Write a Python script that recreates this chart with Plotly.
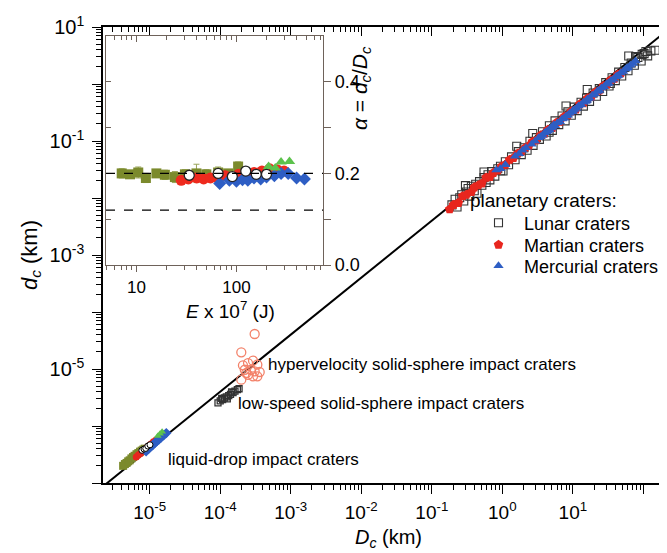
import plotly.graph_objects as go

# ------------------------------------------------------------------ data
# planetary craters (D_c, d_c in km)
lunar_D = [0.193, 0.214, 0.228, 0.249, 0.266, 0.284, 0.309, 0.327, 0.345, 0.364, 0.400, 0.419, 0.437, 0.475,
           0.513, 0.550, 0.589, 0.627, 0.666, 0.705, 0.783, 0.862, 0.942, 1.023, 1.104, 1.226, 1.350, 1.517,
           1.686, 1.856, 2.028, 2.245, 2.464, 2.729, 3.042, 3.357, 3.721, 4.181, 4.647, 5.117, 5.588, 6.308,
           7.033, 7.767, 8.507, 9.502, 10.51, 11.52, 13.07, 14.10, 15.67, 17.25, 19.39, 21.54, 23.71, 26.47,
           29.24, 32.61, 36.01, 40.01, 44.62, 49.31, 54.60, 60.54, 67.18, 74.45, 83.64, 92.97, 102.4, 115.0,
           127.8, 147.2, 77.5, 96.1, 108.7, 0.30, 0.55, 0.95, 1.6, 2.7, 4.6, 8.0, 16.0, 34.0, 62.0]
lunar_d = [0.00758, 0.00949, 0.00696, 0.01013, 0.01143, 0.00885, 0.01274, 0.01471, 0.01078, 0.01605, 0.01339,
           0.01739, 0.01208, 0.01941, 0.01671, 0.0228, 0.01873, 0.02556, 0.02076, 0.02904, 0.02418, 0.03254,
           0.03607, 0.02973, 0.0432, 0.0382, 0.0526, 0.0468, 0.0651, 0.0577, 0.0763, 0.0688, 0.0990, 0.0838,
           0.1144, 0.1067, 0.1456, 0.1222, 0.1853, 0.1535, 0.2258, 0.1934, 0.2749, 0.2258, 0.3247, 0.2832,
           0.3922, 0.3416, 0.4776, 0.4092, 0.5642, 0.4949, 0.6962, 0.6079, 0.8296, 0.7403, 1.056, 0.920,
           1.286, 1.148, 1.614, 1.379, 1.946, 1.708, 2.332, 2.138, 2.917, 2.526, 3.413, 3.115, 3.814, 3.914,
           3.016, 3.314, 3.714, 0.0165, 0.0285, 0.0300, 0.0810, 0.1350, 0.1420, 0.4100, 0.8000, 1.0200, 3.1000]

martian_D = [0.179, 0.203, 0.238, 0.273, 0.309, 0.364, 0.400, 0.456, 0.513, 0.589, 0.666, 0.744, 0.862, 0.982,
             1.104, 1.267, 1.434, 1.644, 1.856, 2.114, 2.376, 2.685, 3.042, 3.493, 3.951, 4.414, 5.117, 5.829,
             6.549, 7.52, 8.507, 9.502, 11.02, 12.55, 14.10, 16.20, 18.32, 21.0, 23.71, 27.02, 30.37, 34.3,
             38.87, 43.47, 48.1]
martian_d = [0.00633, 0.00758, 0.00822, 0.01078, 0.01143, 0.01274, 0.01538, 0.01671, 0.01805, 0.0228, 0.0235,
             0.02764, 0.03043, 0.03607, 0.0382, 0.0468, 0.05044, 0.05993, 0.06436, 0.0763, 0.0823, 0.0975,
             0.1029, 0.1260, 0.1338, 0.1575, 0.1693, 0.2096, 0.2177, 0.2667, 0.2832, 0.3332, 0.3583, 0.4433,
             0.4604, 0.5642, 0.599, 0.7226, 0.7672, 0.920, 0.974, 1.175, 1.240, 1.472, 1.548]

mercury_D = [0.823, 0.942, 1.104, 1.517, 1.729, 1.942, 2.159, 2.596, 2.907, 3.267, 3.493, 3.721, 3.951, 4.181,
             4.414, 4.647, 4.882, 5.117, 5.588, 6.066, 6.549, 7.033, 7.52, 8.012, 8.507, 9.0, 9.752, 10.51,
             11.27, 12.04, 13.07, 14.10, 15.14, 16.20, 17.25, 18.85, 20.46, 22.08, 23.71, 25.37, 27.57, 29.8,
             32.04, 34.86, 37.72, 40.58, 44.05, 47.53, 51.66, 55.79, 60.54, 65.36, 71.42, 77.5, 5.352, 10.0,
             15.67, 22.62, 30.93, 42.32, 58.18]
mercury_d = [0.03112, 0.03254, 0.0382, 0.05408, 0.05993, 0.0688, 0.0763, 0.0876, 0.0990, 0.1144, 0.1183,
             0.1260, 0.1378, 0.1456, 0.1496, 0.1575, 0.1693, 0.1734, 0.1853, 0.2096, 0.2177, 0.242, 0.2502,
             0.2749, 0.2832, 0.3081, 0.3247, 0.3583, 0.3752, 0.4092, 0.4346, 0.4776, 0.4949, 0.5468, 0.5642,
             0.6343, 0.6695, 0.7403, 0.776, 0.8475, 0.8927, 0.9922, 1.038, 1.157, 1.212, 1.342, 1.416, 1.566,
             1.661, 1.831, 1.946, 2.138, 2.283, 2.526, 0.1934, 0.3416, 0.5122, 0.7583, 1.010, 1.379, 1.898]

# hypervelocity solid-sphere impact craters
hyper_D = [3.08e-4, 1.99e-4, 2.92e-4, 2.48e-4, 2.10e-4, 3.36e-4, 2.23e-4, 2.71e-4, 3.08e-4, 3.63e-4,
           2.34e-4, 2.92e-4, 1.99e-4, 3.36e-4, 2.48e-4]
hyper_d = [4.11e-5, 1.96e-5, 1.40e-5, 1.27e-5, 1.16e-5, 1.19e-5, 9.7e-6, 9.7e-6, 9.1e-6, 8.85e-6,
           8.5e-6, 7.45e-6, 6.5e-6, 7.45e-6, 7.9e-6]

# low-speed solid-sphere impact craters
low_D = [9.3e-5, 1.0e-4, 1.05e-4, 1.08e-4, 1.15e-4, 1.22e-4, 1.26e-4, 1.32e-4, 1.40e-4, 1.45e-4, 1.52e-4,
         1.62e-4, 1.75e-4, 1.85e-4]
low_d = [2.55e-6, 2.75e-6, 3.05e-6, 2.9e-6, 3.1e-6, 3.25e-6, 3.0e-6, 3.4e-6, 3.6e-6, 3.95e-6, 3.85e-6,
         4.1e-6, 4.35e-6, 4.5e-6]

# liquid-drop impact craters (main panel)
olive_D = [4.2e-6, 4.45e-6, 4.7e-6, 4.95e-6, 5.2e-6, 5.5e-6, 5.8e-6, 6.1e-6, 6.5e-6, 6.9e-6, 7.3e-6, 7.7e-6,
           8.1e-6, 8.5e-6]
olive_d = [2.0e-7, 2.15e-7, 2.25e-7, 2.4e-7, 2.5e-7, 2.7e-7, 2.85e-7, 3.0e-7, 3.2e-7, 3.35e-7, 3.55e-7,
           3.7e-7, 3.85e-7, 4.0e-7]
red_D = [6.45e-6, 6.9e-6, 7.4e-6, 7.9e-6, 8.4e-6, 9.0e-6, 9.7e-6, 1.04e-5, 1.13e-5, 1.23e-5]
red_d = [2.86e-7, 3.1e-7, 3.3e-7, 3.6e-7, 3.8e-7, 4.15e-7, 4.5e-7, 4.85e-7, 5.3e-7, 5.7e-7]
blue_D = [8.9e-6, 9.6e-6, 1.03e-5, 1.1e-5, 1.18e-5, 1.26e-5, 1.35e-5, 1.45e-5, 1.58e-5, 1.72e-5]
blue_d = [3.6e-7, 3.95e-7, 4.3e-7, 4.6e-7, 5.0e-7, 5.4e-7, 5.8e-7, 6.3e-7, 6.9e-7, 7.5e-7]
green_D = [1.3e-5, 1.4e-5, 1.5e-5]
green_d = [6.7e-7, 7.3e-7, 7.9e-7]
white_D = [7.75e-6, 8.3e-6, 8.8e-6, 9.4e-6, 1.01e-5]
white_d = [3.75e-7, 3.95e-7, 4.05e-7, 4.45e-7, 4.68e-7]

# reference line d_c = k * D_c
k_line = 0.04
line_D = [1e-7, 1e3]

# inset: alpha = d_c/D_c vs E x 10^7 (J)
in_olive_E = [7.1, 8.6, 10.4, 12.4, 15.8, 19.2, 24.2, 30.5, 39.8, 50, 65.6, 82.6, 104]
in_olive_a = [0.200, 0.198, 0.202, 0.190, 0.200, 0.197, 0.192, 0.198, 0.200, 0.198, 0.202, 0.200, 0.215]
in_olive_err = [0.010, 0.008, 0.012, 0.010, 0.008, 0.010, 0.012, 0.010, 0.020, 0.010, 0.012, 0.008, 0.010]
in_red_E = [28, 33, 40, 47, 55, 65, 77, 90, 105, 125, 150, 180, 215, 255, 300]
in_red_a = [0.185, 0.188, 0.190, 0.188, 0.190, 0.190, 0.195, 0.192, 0.198, 0.200, 0.202, 0.205, 0.210,
            0.208, 0.205]
in_blue_E = [68, 85, 100, 115, 130, 150, 175, 200, 240, 280, 330, 400, 480]
in_blue_a = [0.178, 0.185, 0.183, 0.186, 0.185, 0.190, 0.188, 0.192, 0.195, 0.200, 0.200, 0.190, 0.188]
in_green_E = [210, 245, 280, 340]
in_green_a = [0.215, 0.212, 0.225, 0.226]
in_white_E = [33.7, 65.6, 91, 124, 158, 200]
in_white_a = [0.196, 0.200, 0.193, 0.205, 0.198, 0.198]
in_white_err = [0.008, 0.006, 0.006, 0.008, 0.008, 0.006]
alpha_ref = [0.2, 0.12]

# tick labels
x_tickvals = [1e-5, 1e-4, 1e-3, 1e-2, 1e-1, 1e0, 1e1, 1e2]
x_ticktext = ['10<sup>-5</sup>', '10<sup>-4</sup>', '10<sup>-3</sup>', '10<sup>-2</sup>',
              '10<sup>-1</sup>', '10<sup>0</sup>', '10<sup>1</sup>', '']
y_tickvals = [1e-7, 1e-6, 1e-5, 1e-4, 1e-3, 1e-2, 1e-1, 1e0, 1e1]
y_ticktext = ['', '', '10<sup>-5</sup>', '', '10<sup>-3</sup>', '', '10<sup>-1</sup>', '', '10<sup>1</sup>']
in_x_tickvals = [10, 100]
in_x_ticktext = ['10', '100']
in_y_tickvals = [0.0, 0.2, 0.4]
in_y_ticktext = ['0.0', '0.2', '0.4']

# ------------------------------------------------------------------ layout helpers
W, H = 667, 553
ML, MR, MT, MB = 95, 2, 19, 78
PW, PH = W - ML - MR, H - MT - MB


def px(x):
    return (x - ML) / PW


def py(y):
    return (H - MB - y) / PH


def minor_log(lo, hi):
    return [m * 10.0 ** k for k in range(lo, hi) for m in range(2, 10)]


FONT = 'Liberation Sans, Arial, sans-serif'
INSET_C = '#6e625a'

fig = go.Figure()

fig.add_trace(go.Scatter(x=line_D, y=[k_line * v for v in line_D], mode='lines',
                         line=dict(color='black', width=2), showlegend=False, hoverinfo='skip'))

fig.add_trace(go.Scatter(x=lunar_D, y=lunar_d, mode='markers', name='Lunar craters', legend='legend',
                         marker=dict(symbol='square-open', size=8, color='#333333', line=dict(width=1.1))))
fig.add_trace(go.Scatter(x=martian_D, y=martian_d, mode='markers', name='Martian craters', legend='legend2',
                         marker=dict(symbol='pentagon', size=10, color='#e8261e', line=dict(width=0))))
fig.add_trace(go.Scatter(x=mercury_D, y=mercury_d, mode='markers', name='Mercurial craters', legend='legend3',
                         marker=dict(symbol='triangle-up', size=9, color='#2e5ec4', line=dict(width=0))))

fig.add_trace(go.Scatter(x=hyper_D, y=hyper_d, mode='markers', showlegend=False,
                         marker=dict(symbol='circle-open', size=9, color='#f3826a', line=dict(width=1.3))))
fig.add_trace(go.Scatter(x=low_D, y=low_d, mode='markers', showlegend=False,
                         marker=dict(symbol='square-open', size=6, color='#333333', line=dict(width=1.3))))
fig.add_trace(go.Scatter(x=olive_D, y=olive_d, mode='markers', showlegend=False,
                         marker=dict(symbol='square', size=8, color='#7b8a2c')))
fig.add_trace(go.Scatter(x=red_D, y=red_d, mode='markers', showlegend=False,
                         marker=dict(symbol='circle', size=7, color='#e8261e')))
fig.add_trace(go.Scatter(x=blue_D, y=blue_d, mode='markers', showlegend=False,
                         marker=dict(symbol='diamond', size=8, color='#2e5ec4')))
fig.add_trace(go.Scatter(x=green_D, y=green_d, mode='markers', showlegend=False,
                         marker=dict(symbol='triangle-up', size=7, color='#5cc24c')))
fig.add_trace(go.Scatter(x=white_D, y=white_d, mode='markers', showlegend=False,
                         marker=dict(symbol='circle', size=6, color='white', line=dict(color='black', width=1))))

fig.add_trace(go.Scatter(x=in_olive_E, y=in_olive_a, xaxis='x2', yaxis='y2', mode='markers', showlegend=False,
                         error_y=dict(type='data', array=in_olive_err, color='#9aa55a', thickness=1, width=3),
                         marker=dict(symbol='square', size=10, color='#7b8a2c')))
fig.add_trace(go.Scatter(x=in_red_E, y=in_red_a, xaxis='x2', yaxis='y2', mode='markers', showlegend=False,
                         marker=dict(symbol='circle', size=11, color='#ee2a1e')))
fig.add_trace(go.Scatter(x=in_blue_E, y=in_blue_a, xaxis='x2', yaxis='y2', mode='markers', showlegend=False,
                         marker=dict(symbol='diamond', size=10, color='#2e5ec4')))
fig.add_trace(go.Scatter(x=in_green_E, y=in_green_a, xaxis='x2', yaxis='y2', mode='markers', showlegend=False,
                         marker=dict(symbol='triangle-up', size=10, color='#5cc24c')))
fig.add_trace(go.Scatter(x=in_white_E, y=in_white_a, xaxis='x2', yaxis='y2', mode='markers', showlegend=False,
                         error_y=dict(type='data', array=in_white_err, color='#333333', thickness=1, width=3),
                         marker=dict(symbol='circle', size=10, color='white', line=dict(color='#222222', width=1.3))))

# invisible traces so that the mirrored tick axes get drawn
fig.add_trace(go.Scatter(x=[1], y=[1], xaxis='x3', yaxis='y4', mode='markers', marker=dict(opacity=0),
                         showlegend=False, hoverinfo='skip'))
fig.add_trace(go.Scatter(x=[10], y=[0.25], xaxis='x5', yaxis='y6', mode='markers', marker=dict(opacity=0),
                         showlegend=False, hoverinfo='skip'))

xr = [-5.662, 2.42]
yr = [-7.0, 1.0]
common = dict(showgrid=False, zeroline=False, showline=True, linecolor='black', linewidth=1.5,
              tickcolor='black', tickwidth=1.3)
inset_common = dict(showgrid=False, zeroline=False, showline=True, linecolor=INSET_C, linewidth=1.2,
                    tickcolor=INSET_C)


def leg(ycen):
    return dict(x=px(465), y=py(ycen), xanchor='left', yanchor='middle', bgcolor='rgba(0,0,0,0)',
                font=dict(size=18), itemwidth=41)


fig.update_layout(
    width=W, height=H, margin=dict(l=ML, r=MR, t=MT, b=MB),
    paper_bgcolor='white', plot_bgcolor='white',
    font=dict(family=FONT, color='black'),
    xaxis=dict(type='log', range=xr, domain=[0, 1], anchor='y', ticks='outside', ticklen=9,
               tickvals=x_tickvals, ticktext=x_ticktext, tickfont=dict(size=19), ticklabelstandoff=2,
               minor=dict(ticks='outside', ticklen=5, tickvals=minor_log(-6, 3), tickcolor='black'),
               **common),
    xaxis3=dict(type='log', range=xr, overlaying='x', side='top', anchor='y', ticks='inside', ticklen=9,
                tickvals=x_tickvals, showticklabels=False,
                minor=dict(ticks='inside', ticklen=5, tickvals=minor_log(-6, 3), tickcolor='black'), **common),
    yaxis=dict(type='log', range=yr, domain=[0, 1], anchor='x', ticks='outside', ticklen=9,
               tickvals=y_tickvals, ticktext=y_ticktext, tickfont=dict(size=20), ticklabelstandoff=4,
               minor=dict(ticks='outside', ticklen=5, tickvals=minor_log(-7, 1), tickcolor='black'),
               title=dict(text='<i>d<sub>c</sub></i> (km)', font=dict(size=22), standoff=6), **common),
    yaxis4=dict(type='log', range=yr, overlaying='y', side='right', anchor='x', ticks='inside', ticklen=9,
                tickvals=y_tickvals, showticklabels=False,
                minor=dict(ticks='inside', ticklen=5, tickvals=minor_log(-7, 1), tickcolor='black'), **common),
    xaxis2=dict(type='log', range=[0.694, 2.867], domain=[px(98), px(315)], anchor='y2',
                ticks='outside', ticklen=6, tickvals=in_x_tickvals, ticktext=in_x_ticktext,
                tickfont=dict(size=17),
                minor=dict(ticks='outside', ticklen=4, tickvals=minor_log(0, 3), tickcolor=INSET_C),
                **inset_common),
    xaxis5=dict(type='log', range=[0.694, 2.867], overlaying='x2', side='top', anchor='y2',
                ticks='inside', ticklen=6, tickvals=in_x_tickvals, showticklabels=False,
                minor=dict(ticks='inside', ticklen=4, tickvals=minor_log(0, 3), tickcolor=INSET_C),
                **inset_common),
    yaxis2=dict(range=[0, 0.5], domain=[py(257), py(28)], anchor='x2', side='right',
                ticks='outside', ticklen=7, tickvals=in_y_tickvals, ticktext=in_y_ticktext,
                tickfont=dict(size=18),
                minor=dict(ticks='outside', ticklen=7, tickvals=[0.1, 0.3], tickcolor=INSET_C),
                **inset_common),
    yaxis6=dict(range=[0, 0.5], overlaying='y2', side='left', anchor='x2',
                ticks='inside', ticklen=5, tickvals=[0.1, 0.2, 0.3, 0.4], showticklabels=False,
                **inset_common),
    legend=leg(215), legend2=leg(237), legend3=leg(258),
    showlegend=True,
)

for a in alpha_ref:
    fig.add_shape(type='line', xref='x2 domain', yref='y2', x0=0, x1=1, y0=a, y1=a,
                  line=dict(color='black', width=1.2, dash='dash'))

ann_font = dict(family=FONT, size=17, color='black')
fig.add_annotation(x=px(460), y=py(193), xref='paper', yref='paper', xanchor='left', yanchor='middle',
                   text='planetary craters:', showarrow=False, font=dict(family=FONT, size=19))
fig.add_annotation(x=px(258), y=py(356), xref='paper', yref='paper', xanchor='left', yanchor='middle',
                   text='hypervelocity solid-sphere impact craters', showarrow=False, font=ann_font)
fig.add_annotation(x=px(228), y=py(395), xref='paper', yref='paper', xanchor='left', yanchor='middle',
                   text='low-speed solid-sphere impact craters', showarrow=False, font=ann_font)
fig.add_annotation(x=px(158), y=py(451), xref='paper', yref='paper', xanchor='left', yanchor='middle',
                   text='liquid-drop impact craters', showarrow=False, font=ann_font)
fig.add_annotation(x=px(222), y=py(302), xref='paper', yref='paper', xanchor='center', yanchor='middle',
                   text='<i>E</i> x 10<sup>7</sup> (J)', showarrow=False, font=dict(family=FONT, size=19))
fig.add_annotation(x=px(353), y=py(80), xref='paper', yref='paper', xanchor='center', yanchor='middle',
                   textangle=-90, text='<i>α</i> = <i>d<sub>c</sub></i>/<i>D<sub>c</sub></i>', showarrow=False,
                   font=dict(family=FONT, size=21))
fig.add_annotation(x=0.5, y=0, xref='paper', yref='paper', xanchor='center', yanchor='middle',
                   yshift=-55, borderpad=0, text='<i>D<sub>c</sub></i> (km)', showarrow=False,
                   font=dict(family=FONT, size=20))

fig.write_html('out.html')
